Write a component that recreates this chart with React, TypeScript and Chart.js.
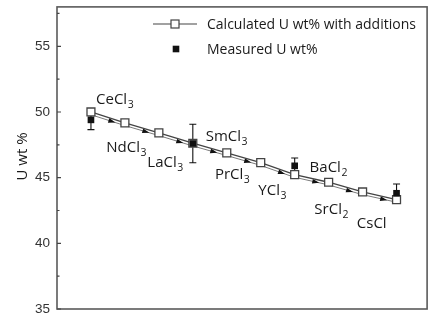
import { useEffect, useRef } from 'react';
import { Chart, registerables } from 'chart.js';

Chart.register(...registerables);

// ---- data ----
const steps = [0, 1, 2, 3, 4, 5, 6, 7, 8, 9];
const calculated = [50.0, 49.17, 48.41, 47.62, 46.89, 46.14, 45.23, 44.65, 43.91, 43.33];
const measuredSteps = [0, 3, 6, 9];
const measured = [49.4, 47.6, 45.9, 43.81];
const measuredErr = [0.74, 1.47, 0.6, 0.71];
const additions = ['CeCl3', 'NdCl3', 'LaCl3', 'SmCl3', 'PrCl3', 'YCl3', 'BaCl2', 'SrCl2', 'CsCl'];
const additionAnchorX = [0.15, 0.45, 1.66, 3.38, 3.65, 4.93, 6.44, 6.58, 7.83];
const additionAnchorY = [50.63, 46.99, 45.78, 47.8, 44.92, 43.71, 45.4, 42.27, 41.14];
const yMajorTicks = [35, 40, 45, 50, 55];
const yMinorTicks = [37.5, 42.5, 47.5, 52.5, 57.5];
const seriesNames = ['Calculated U wt% with additions', 'Measured U wt%'];
const yTitle = 'U wt %';

const TEXT_FONT = '"Open Sans", "Noto Sans", sans-serif';

const decorPlugin = {
  id: 'decor',
  beforeDatasetsDraw(chart: any) {
    const { ctx, scales } = chart;
    const xs = scales.x;
    const ys = scales.y;
    ctx.save();
    // arrow paths between consecutive calculated points
    for (let i = 0; i < steps.length - 1; i++) {
      const x0 = xs.getPixelForValue(steps[i]);
      const y0 = ys.getPixelForValue(calculated[i]);
      const x1 = xs.getPixelForValue(steps[i + 1]);
      const y1 = ys.getPixelForValue(calculated[i + 1]);
      const len = Math.hypot(x1 - x0, y1 - y0);
      const dx = (x1 - x0) / len;
      const dy = (y1 - y0) / len;
      const nx = -dy;
      const ny = dx;
      const off = 2.6;
      ctx.strokeStyle = '#7a7a7a';
      ctx.lineWidth = 1;
      ctx.beginPath();
      ctx.moveTo(x0 + nx * off, y0 + ny * off);
      ctx.lineTo(x1 + nx * off, y1 + ny * off);
      ctx.stroke();
      const t = 0.74;
      const tx = x0 + dx * len * t + nx * off;
      const ty = y0 + dy * len * t + ny * off;
      const al = 7;
      const aw = 2.4;
      ctx.fillStyle = '#111';
      ctx.beginPath();
      ctx.moveTo(tx, ty);
      ctx.lineTo(tx - dx * al + nx * aw, ty - dy * al + ny * aw);
      ctx.lineTo(tx - dx * al - nx * aw, ty - dy * al - ny * aw);
      ctx.closePath();
      ctx.fill();
    }
    // error bars
    ctx.strokeStyle = '#111';
    ctx.lineWidth = 1.1;
    for (let i = 0; i < measured.length; i++) {
      const x = xs.getPixelForValue(measuredSteps[i]);
      const yt = ys.getPixelForValue(measured[i] + measuredErr[i]);
      const yb = ys.getPixelForValue(measured[i] - measuredErr[i]);
      ctx.beginPath();
      ctx.moveTo(x, yt);
      ctx.lineTo(x, yb);
      ctx.moveTo(x - 3.5, yt);
      ctx.lineTo(x + 3.5, yt);
      ctx.moveTo(x - 3.5, yb);
      ctx.lineTo(x + 3.5, yb);
      ctx.stroke();
    }
    ctx.restore();
  },
  afterDatasetsDraw(chart: any) {
    const { ctx, scales, chartArea } = chart;
    const xs = scales.x;
    const ys = scales.y;
    ctx.save();
    // addition labels with subscripts
    ctx.fillStyle = '#1a1a1a';
    ctx.textBaseline = 'alphabetic';
    ctx.textAlign = 'left';
    for (let i = 0; i < additions.length; i++) {
      const m = additions[i].match(/^(.*?)(\d*)$/);
      const base = m ? m[1] : additions[i];
      const sub = m ? m[2] : '';
      const x = xs.getPixelForValue(additionAnchorX[i]);
      const y = ys.getPixelForValue(additionAnchorY[i]);
      ctx.font = `15px ${TEXT_FONT}`;
      ctx.fillText(base, x, y);
      const w = ctx.measureText(base).width;
      if (sub) {
        ctx.font = `10.5px ${TEXT_FONT}`;
        ctx.fillText(sub, x + w + 0.5, y + 4);
      }
    }
    // frame
    ctx.strokeStyle = '#5a5a5a';
    ctx.lineWidth = 1.6;
    ctx.strokeRect(chartArea.left, chartArea.top, chartArea.right - chartArea.left, chartArea.bottom - chartArea.top);
    // y ticks (inward)
    ctx.lineWidth = 1.2;
    ctx.strokeStyle = '#444';
    ctx.beginPath();
    for (const v of yMajorTicks) {
      const y = ys.getPixelForValue(v);
      ctx.moveTo(chartArea.left, y);
      ctx.lineTo(chartArea.left + 4, y);
    }
    for (const v of yMinorTicks) {
      const y = ys.getPixelForValue(v);
      ctx.moveTo(chartArea.left, y);
      ctx.lineTo(chartArea.left + 2.5, y);
    }
    ctx.stroke();
    // legend
    ctx.strokeStyle = '#444';
    ctx.lineWidth = 1.2;
    ctx.beginPath();
    ctx.moveTo(153, 24);
    ctx.lineTo(197, 24);
    ctx.stroke();
    ctx.fillStyle = '#fff';
    ctx.fillRect(171, 20, 8, 8);
    ctx.strokeRect(171, 20, 8, 8);
    ctx.fillStyle = '#111';
    ctx.fillRect(172.7, 45.7, 6.6, 6.6);
    ctx.fillStyle = '#1a1a1a';
    ctx.font = `14px ${TEXT_FONT}`;
    ctx.fillText(seriesNames[0], 207, 29.3);
    ctx.fillText(seriesNames[1], 207, 53.5);
    // y title
    ctx.save();
    ctx.translate(26.7, 156.5);
    ctx.rotate(-Math.PI / 2);
    ctx.textAlign = 'center';
    ctx.font = `15px ${TEXT_FONT}`;
    ctx.fillText(yTitle, 0, 0);
    ctx.restore();
    ctx.restore();
  },
};

export default function App() {
  const ref = useRef<HTMLCanvasElement>(null);
  useEffect(() => {
    document.body.style.margin = '0';
    const canvas = ref.current;
    if (!canvas) return;
    const chart = new Chart(canvas, {
      type: 'line',
      data: {
        datasets: [
          {
            label: seriesNames[1],
            data: measuredSteps.map((s, i) => ({ x: s, y: measured[i] })),
            showLine: false,
            pointStyle: 'rect',
            pointRadius: 4.7,
            pointBackgroundColor: '#111',
            pointBorderColor: '#111',
            pointBorderWidth: 0,
            order: 0,
          },
          {
            label: seriesNames[0],
            data: steps.map((s, i) => ({ x: s, y: calculated[i] })),
            borderColor: '#444',
            borderWidth: 1.3,
            pointStyle: 'rect',
            pointRadius: 5.6,
            pointBackgroundColor: '#fff',
            pointBorderColor: '#444',
            pointBorderWidth: 1.3,
            tension: 0,
            order: 1,
          },
        ],
      },
      options: {
        responsive: false,
        animation: false,
        devicePixelRatio: 1,
        layout: { padding: { top: 5, right: 3, bottom: 9, left: 0 } },
        plugins: {
          legend: { display: false },
          tooltip: { enabled: false },
        },
        scales: {
          x: {
            type: 'linear',
            display: false,
            min: -1,
            max: 9.9,
          },
          y: {
            type: 'linear',
            min: 35,
            max: 58,
            grid: { display: false, drawTicks: false },
            border: { display: false },
            afterBuildTicks: (scale: any) => {
              scale.ticks = yMajorTicks.map((v) => ({ value: v }));
            },
            afterFit: (scale: any) => {
              scale.width = 57;
              scale.paddingTop = 0;
              scale.paddingBottom = 0;
            },
            ticks: {
              padding: 7,
              color: '#333',
              font: { family: '"Liberation Sans", Arial, sans-serif', size: 13.5 },
            },
            title: { display: false },
          },
        },
      },
      plugins: [decorPlugin],
    });
    return () => chart.destroy();
  }, []);
  return (
    <div style={{ width: 434, height: 318 }}>
      <canvas ref={ref} width={434} height={318} style={{ display: 'block' }} />
    </div>
  );
}
